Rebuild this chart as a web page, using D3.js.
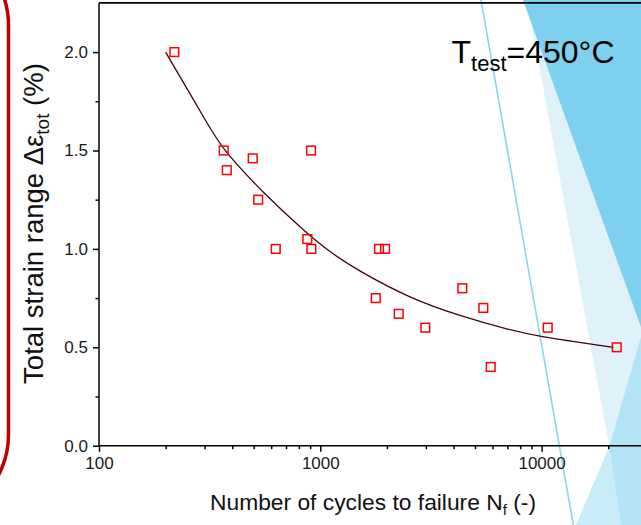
<!DOCTYPE html>
<html>
<head>
<meta charset="utf-8">
<script src="https://cdn.jsdelivr.net/npm/d3@7"></script>
<style>
  html, body { margin: 0; padding: 0; background: #fff; overflow: hidden; }
  svg { display: block; font-family: Arial, "Liberation Sans", sans-serif; }
</style>
</head>
<body>
<svg id="chart" width="641" height="525"></svg>
<script>
// ---- data ----
const cycles = [219, 366, 378, 495, 524, 629, 908, 874, 911, 1842, 1961, 1780, 2261, 2982, 4382, 5453, 5890, 10657, 21850];
const strain = [2.0, 1.5, 1.4, 1.46, 1.25, 1.0, 1.5, 1.05, 1.0, 1.0, 1.0, 0.75, 0.67, 0.6, 0.8, 0.7, 0.4, 0.6, 0.5];
const fitCycles = [200, 321, 366, 553, 868, 1106, 1511, 2543, 4279, 7198, 9835, 17125, 21090];
const fitStrain = [2.0, 1.604, 1.5, 1.283, 1.079, 0.983, 0.884, 0.749, 0.659, 0.588, 0.554, 0.515, 0.5];
const yTicks = [0.0, 0.5, 1.0, 1.5, 2.0];
const yMinorTicks = [0.25, 0.75, 1.25, 1.75];
const xTicks = [100, 1000, 10000];
const xMinorTicks = [200, 300, 400, 500, 600, 700, 800, 900, 2000, 3000, 4000, 5000, 6000, 7000, 8000, 9000, 20000, 30000];

const svg = d3.select("#chart");

// ---- decorative slide background shapes ----
const deco = svg.append("g");
deco.append("polygon").attr("points", "527,0 641,0 641,525 576,525 609.3,446.7").attr("fill", "#dff2fa");
deco.append("polygon").attr("points", "609.3,446.7 576,525 621,525").attr("fill", "#c9ecf9");
deco.append("polygon").attr("points", "641,336.7 609.3,446.7 621,525 641,525").attr("fill", "#b3e4f5");
deco.append("polygon").attr("points", "523,0 641,0 641,327").attr("fill", "#7dd0ee");
deco.append("line").attr("x1", 481).attr("y1", 0).attr("x2", 573.3).attr("y2", 525)
  .attr("stroke", "#8fd4ef").attr("stroke-width", 1.6);
deco.append("rect").attr("x", -200).attr("y", -60).attr("width", 208.5).attr("height", 580)
  .attr("rx", 85).attr("ry", 85).attr("fill", "none").attr("stroke", "#c00000").attr("stroke-width", 3.5);

// ---- scales ----
const x = d3.scaleLog().domain([100, 100000]).range([99, 99 + 3 * 221.3]);
const y = d3.scaleLinear().domain([0, 2.25]).range([445.7, 2.9]);

// ---- axes ----
const fs = 17;
const xAxis = d3.axisBottom(x).tickValues(xTicks).tickFormat(d3.format("d")).tickSize(6).tickPadding(5);
const gx = svg.append("g").attr("transform", `translate(0,${y(0)})`).call(xAxis);
gx.select(".domain").attr("d", `M${x(100)},0H700`);
const xMinor = d3.axisBottom(x).tickValues(xMinorTicks).tickFormat("").tickSize(3.5);
const gxm = svg.append("g").attr("transform", `translate(0,${y(0)})`).call(xMinor);
gxm.select(".domain").remove();

const yAxis = d3.axisLeft(y).tickValues(yTicks).tickFormat(d3.format(".1f")).tickSize(6).tickPadding(5);
const gy = svg.append("g").attr("transform", `translate(${x(100)},0)`).call(yAxis);
gy.select(".domain").attr("d", `M0,${y(0)}V${y(2.25)}`);
const yMinor = d3.axisLeft(y).tickValues(yMinorTicks).tickFormat("").tickSize(3.5);
const gym = svg.append("g").attr("transform", `translate(${x(100)},0)`).call(yMinor);
gym.select(".domain").remove();

svg.selectAll(".domain, .tick line").attr("stroke", "#000").attr("stroke-width", 1.5);
svg.selectAll(".tick text").attr("font-size", fs).attr("fill", "#1a1a1a")
  .attr("font-family", "Arial, 'Liberation Sans', sans-serif");

// top frame line
svg.append("line").attr("x1", x(100)).attr("y1", y(2.25)).attr("x2", 700).attr("y2", y(2.25))
  .attr("stroke", "#000").attr("stroke-width", 1.8);

// ---- fit curve ----
const line = d3.line().x((d, i) => x(fitCycles[i])).y((d, i) => y(fitStrain[i])).curve(d3.curveBasis);
svg.append("path").attr("d", line(fitCycles)).attr("fill", "none")
  .attr("stroke", "#3e0606").attr("stroke-width", 1.3);

// ---- markers ----
const s = 8.7;
svg.append("g").selectAll("rect").data(cycles).join("rect")
  .attr("x", (d) => x(d) - s / 2)
  .attr("y", (d, i) => y(strain[i]) - s / 2)
  .attr("width", s).attr("height", s)
  .attr("fill", "none").attr("stroke", "#ff0000").attr("stroke-width", 1.5);

// ---- titles ----
const xt = svg.append("text").attr("x", 373).attr("y", 510).attr("text-anchor", "middle")
  .attr("font-size", 22.8).attr("fill", "#111");
xt.append("tspan").text("Number of cycles to failure N");
xt.append("tspan").attr("font-size", 15).attr("dy", 5).text("f");
xt.append("tspan").attr("dy", -5).text(" (-)");

const yt = svg.append("text").attr("transform", "translate(43,223.5) rotate(-90)")
  .attr("text-anchor", "middle").attr("font-size", 27.5).attr("fill", "#111");
yt.append("tspan").text("Total strain range Δε");
yt.append("tspan").attr("font-size", 19).attr("dy", 6).text("tot");
yt.append("tspan").attr("dy", -6).text(" (%)");

const ann = svg.append("text").attr("x", 451.5).attr("y", 62.7).attr("font-size", 32).attr("fill", "#000");
ann.append("tspan").text("T");
ann.append("tspan").attr("font-size", 22).attr("dy", 8.3).text("test");
ann.append("tspan").attr("dy", -8.3).text("=450°C");
</script>
</body>
</html>
